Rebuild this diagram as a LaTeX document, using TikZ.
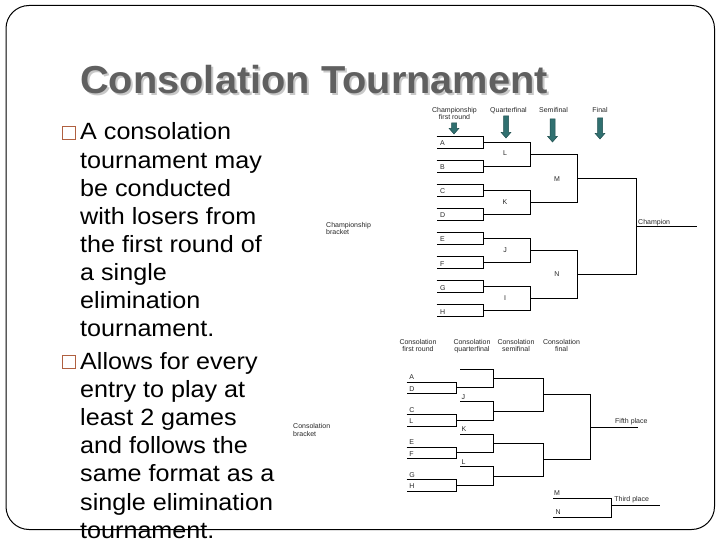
\documentclass[tikz,border=0pt]{standalone}
\usepackage{fontspec}
\setmainfont{Liberation Sans}
\newfontfamily\titlefont{Liberation Sans}[FakeStretch=1.02]
\newfontfamily\bodyfont{Liberation Sans}[FakeStretch=1.07]
\newfontfamily\smallfont{Liberation Sans}
\usetikzlibrary{calc}
\definecolor{titlegray}{RGB}{96,96,96}
\definecolor{shadowgray}{RGB}{200,200,200}
\definecolor{bulletbrown}{RGB}{176,96,64}
\definecolor{arrowteal}{RGB}{48,112,112}
\definecolor{arrowedge}{RGB}{30,78,78}
\definecolor{labelgray}{RGB}{40,40,40}
\newcommand\tealarrow[3]{\filldraw[tarrow] (#1-2.5,#2) -- (#1+2.5,#2) -- (#1+2.5,#3-5.5) -- (#1+4.8,#3-5.5) -- (#1,#3) -- (#1-4.8,#3-5.5) -- (#1-2.5,#3-5.5) -- cycle;}
\begin{document}
\begin{tikzpicture}[x=1pt,y=-1pt,
  frame/.style={draw=black,line width=1pt,rounded corners=23pt},
  brk/.style={draw=black,line width=0.8pt},
  lbl/.style={font=\smallfont\fontsize{7}{8}\selectfont,text=labelgray,inner sep=0pt},
  hdr/.style={lbl,anchor=base},
  lw/.style={lbl,anchor=base west},
  bodyline/.style={font=\bodyfont\fontsize{23.5}{28}\selectfont,anchor=base west,inner sep=0pt},
  titletext/.style={font=\titlefont\bfseries\fontsize{39}{44}\selectfont,anchor=base west,inner sep=0pt},
  bulletbox/.style={draw=bulletbrown,line width=1.3pt},
  tarrow/.style={fill=arrowteal,draw=arrowedge,line width=0.5pt}
]
\useasboundingbox (0,0) rectangle (720,540);
\fill[white] (0,0) rectangle (720,540);
\draw[frame] (6,5.5) rectangle (714.5,529.5);

% title
\node[titletext,text=shadowgray] (titleshadow) at (82,95.5) {Consolation Tournament};
\node[titletext,text=titlegray] (title) at (80,93.5) {Consolation Tournament};

% body text
\draw[bulletbox] (62.5,126.5) rectangle (75.5,139.5);
\node[bodyline] (b1) at (80,140) {A consolation};
\node[bodyline] (b2) at (80,168.1) {tournament may};
\node[bodyline] (b3) at (80,196.2) {be conducted};
\node[bodyline] (b4) at (80,224.3) {with losers from};
\node[bodyline] (b5) at (80,252.4) {the first round of};
\node[bodyline] (b6) at (80,280.5) {a single};
\node[bodyline] (b7) at (80,308.6) {elimination};
\node[bodyline] (b8) at (80,336.7) {tournament.};
\draw[bulletbox] (62.5,355.8) rectangle (75.5,368.8);
\node[bodyline] (c1) at (80,369.3) {Allows for every};
\node[bodyline] (c2) at (80,397.45) {entry to play at};
\node[bodyline] (c3) at (80,425.6) {least 2 games};
\node[bodyline] (c4) at (80,453.75) {and follows the};
\node[bodyline] (c5) at (80,481.9) {same format as a};
\node[bodyline] (c6) at (80,510.05) {single elimination};
\node[bodyline] (c7) at (80,538.2) {tournament.};

% ===== championship bracket =====
\node[hdr] (h1a) at (454.5,113) {Championship};
\node[hdr] (h1b) at (454.5,120) {first round};
\node[hdr] (h2) at (508.5,113) {Quarterfinal};
\node[hdr] (h3) at (553.5,113) {Semifinal};
\node[hdr] (h4) at (600,113) {Final};
\tealarrow{454}{123}{134}
\tealarrow{506}{116}{138}
\tealarrow{552.5}{119}{142}
\tealarrow{600}{118}{139}
\node[lw] (cb1) at (326,227) {Championship};
\node[lw] (cb2) at (326,235) {bracket};

\coordinate (qx) at (530,0);
\coordinate (sx) at (577,0);
\coordinate (fx) at (636,0);
\coordinate (chx) at (697,0);
\foreach \L [count=\i from 0] in {A,B,C,D,E,F,G,H}{
  \pgfmathsetmacro\yt{136+24.1*\i}
  \draw[brk] (436.5,\yt) -- (483.5,\yt) -- (483.5,\yt+12) -- (436.5,\yt+12);
  \node[lw] (ent\i) at (440,\yt+9.5) {\L};
  \coordinate (e\i) at (483.5,\yt+6);
}
\foreach \p in {0,1,2,3}{
  \pgfmathtruncatemacro\a{2*\p}
  \pgfmathtruncatemacro\b{2*\p+1}
  \draw[brk] (e\a) -- (e\a -| qx) -- (e\b -| qx) -- (e\b);
  \coordinate (q\p) at ($(e\a -| qx)!.5!(e\b -| qx)$);
}
\draw[brk] (q0) -- (q0 -| sx) -- (q1 -| sx) -- (q1);
\coordinate (s0) at ($(q0 -| sx)!.5!(q1 -| sx)$);
\draw[brk] (q2) -- (q2 -| sx) -- (q3 -| sx) -- (q3);
\coordinate (s1) at ($(q2 -| sx)!.5!(q3 -| sx)$);
\draw[brk] (s0) -- (s0 -| fx) -- (s1 -| fx) -- (s1);
\coordinate (fm) at ($(s0 -| fx)!.5!(s1 -| fx)$);
\draw[brk] (fm) -- (fm -| chx);
\node[lbl] (lL) at ($(q0)+(-25,-1)$) {L};
\node[lbl] (lK) at ($(q1)+(-25,0)$) {K};
\node[lbl] (lJ) at ($(q2)+(-25,0)$) {J};
\node[lbl] (lI) at ($(q3)+(-25,-1)$) {I};
\node[lbl] (lM) at ($(s0)+(-20,1)$) {M};
\node[lbl] (lN) at ($(s1)+(-20,0)$) {N};
\node[lw] (champ) at ($(fm)+(2,-2)$) {Champion};

% ===== consolation bracket =====
\node[hdr] (k1a) at (418,344) {Consolation};
\node[hdr] (k1b) at (418,351) {first round};
\node[hdr] (k2a) at (472,344) {Consolation};
\node[hdr] (k2b) at (472,351) {quarterfinal};
\node[hdr] (k3a) at (516,344) {Consolation};
\node[hdr] (k3b) at (516,351) {semifinal};
\node[hdr] (k4a) at (561.5,344) {Consolation};
\node[hdr] (k4b) at (561.5,351) {final};
\node[lw] (kb1) at (293,428) {Consolation};
\node[lw] (kb2) at (293,436) {bracket};

\coordinate (px) at (456.7,0);
\coordinate (qqx) at (493.3,0);
\coordinate (ssx) at (543.3,0);
\coordinate (ffx) at (590,0);
\coordinate (fifx) at (638.3,0);
\foreach \La/\Lb [count=\p from 0] in {A/D,C/L,E/F,G/H}{
  \pgfmathsetmacro\ya{382+32.5*\p}
  \coordinate (ca\p) at (406.7,\ya);
  \coordinate (cb\p) at (406.7,\ya+11.7);
  \draw[brk] (ca\p) -- (ca\p -| px) -- (cb\p -| px) -- (cb\p);
  \node[lw] (la\p) at ($(ca\p)+(2.5,-2.5)$) {\La};
  \node[lw] (lb\p) at ($(cb\p)+(2.5,-2.5)$) {\Lb};
  \coordinate (pm\p) at ($(ca\p -| px)!.5!(cb\p -| px)$);
  \coordinate (qu\p) at ($(pm\p)+(3.3,-18.5)$);
  \draw[brk] (qu\p) -- (qu\p -| qqx) -- (pm\p -| qqx) -- (pm\p);
  \coordinate (qm\p) at ($(qu\p -| qqx)!.5!(pm\p -| qqx)$);
}
\node[lw] (lJ2) at ($(qu1)+(1.5,-2.5)$) {J};
\node[lw] (lK2) at ($(qu2)+(1.5,-2.5)$) {K};
\node[lw] (lL2) at ($(qu3)+(1.5,-2.5)$) {L};
\draw[brk] (qm0) -- (qm0 -| ssx) -- (qm1 -| ssx) -- (qm1);
\coordinate (sm0) at ($(qm0 -| ssx)!.5!(qm1 -| ssx)$);
\draw[brk] (qm2) -- (qm2 -| ssx) -- (qm3 -| ssx) -- (qm3);
\coordinate (sm1) at ($(qm2 -| ssx)!.5!(qm3 -| ssx)$);
\draw[brk] (sm0) -- (sm0 -| ffx) -- (sm1 -| ffx) -- (sm1);
\coordinate (fifm) at ($(sm0 -| ffx)!.5!(sm1 -| ffx)$);
\draw[brk] (fifm) -- (fifm -| fifx);
\node[lw] (fifth) at ($(fifm)+(25,-4)$) {Fifth place};

% third place
\coordinate (mA) at (553.3,498.3);
\coordinate (nA) at (553.3,517.3);
\coordinate (tx) at (611.7,0);
\coordinate (tend) at (660,505);
\draw[brk] (mA) -- (mA -| tx) -- (nA -| tx) -- (nA);
\draw[brk] (tend -| tx) -- (tend);
\node[lw] (lM2) at ($(mA)+(0.5,-3)$) {M};
\node[lw] (lN2) at ($(nA)+(2,-3)$) {N};
\node[lw] (third) at ($(tend -| tx)+(2.5,-4)$) {Third place};
\end{tikzpicture}
\end{document}
